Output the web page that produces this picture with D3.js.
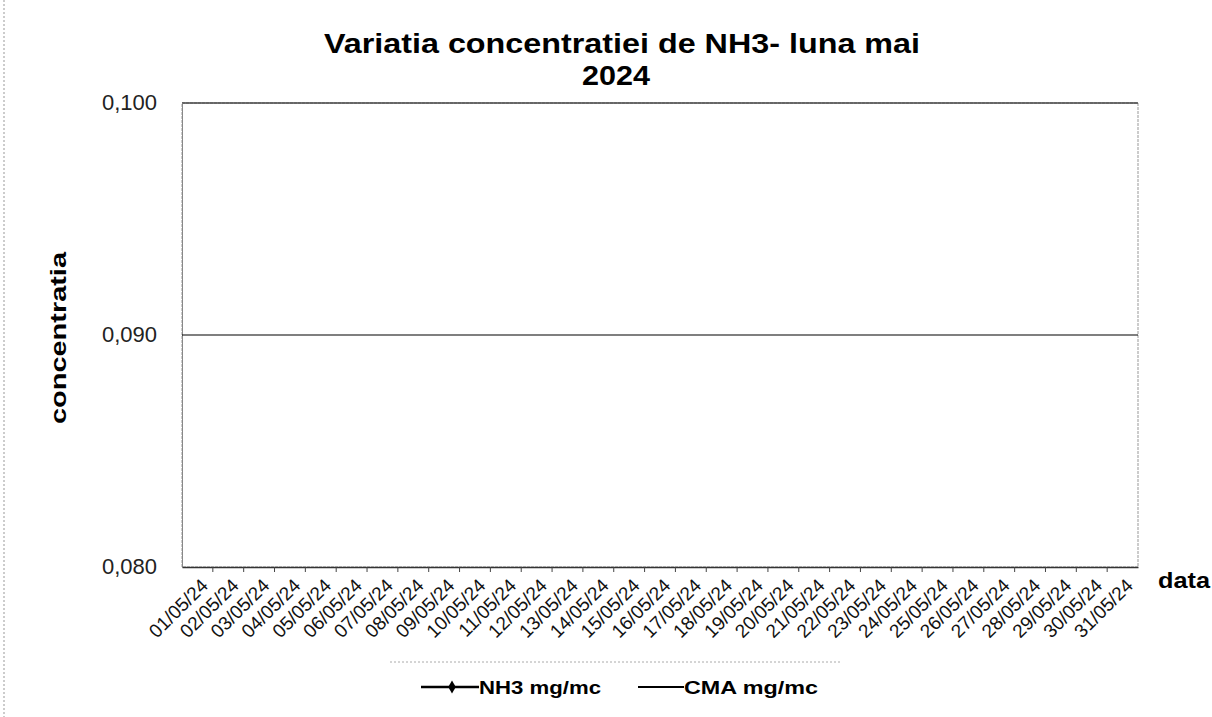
<!DOCTYPE html>
<html><head><meta charset="utf-8">
<script src="https://cdn.jsdelivr.net/npm/d3@7/dist/d3.min.js"></script>
<style>body{margin:0;background:#fff}svg{display:block;font-family:"Liberation Sans",Arial,sans-serif}</style>
</head><body><svg id="c" width="1212" height="717"></svg>
<script>
const categories = ["01/05/24","02/05/24","03/05/24","04/05/24","05/05/24","06/05/24","07/05/24","08/05/24","09/05/24","10/05/24","11/05/24","12/05/24","13/05/24","14/05/24","15/05/24","16/05/24","17/05/24","18/05/24","19/05/24","20/05/24","21/05/24","22/05/24","23/05/24","24/05/24","25/05/24","26/05/24","27/05/24","28/05/24","29/05/24","30/05/24","31/05/24"];
// NH3 values lie below the visible axis range (not visible in the chart)
const nh3 = [0.02,0.02,0.02,0.02,0.02,0.02,0.02,0.02,0.02,0.02,0.02,0.02,0.02,0.02,0.02,0.02,0.02,0.02,0.02,0.02,0.02,0.02,0.02,0.02,0.02,0.02,0.02,0.02,0.02,0.02,0.02];
const cma = [0.09,0.09,0.09,0.09,0.09,0.09,0.09,0.09,0.09,0.09,0.09,0.09,0.09,0.09,0.09,0.09,0.09,0.09,0.09,0.09,0.09,0.09,0.09,0.09,0.09,0.09,0.09,0.09,0.09,0.09,0.09];
const yTicks = [0.080,0.090,0.100];

const svg = d3.select("#c");
const L=182,R=1138,T=103,B=567;
const x = d3.scaleBand().domain(categories).range([L,R]);
const y = d3.scaleLinear().domain([0.080,0.100]).range([B,T]);

svg.append("defs").append("clipPath").attr("id","pc").append("rect").attr("x",L).attr("y",T).attr("width",R-L).attr("height",B-T);

// chart area left edge (dotted)
svg.append("line").attr("x1",4).attr("x2",4).attr("y1",0).attr("y2",717).attr("stroke","#999").attr("stroke-dasharray","2,2");
// faint dotted line under the labels
svg.append("line").attr("x1",390).attr("x2",842).attr("y1",662).attr("y2",662).attr("stroke","#aaa").attr("stroke-dasharray","2,2");

// plot border
svg.append("rect").attr("x",L).attr("y",T).attr("width",R-L).attr("height",B-T).attr("fill","none").attr("stroke","#999").attr("stroke-width",1).attr("stroke-dasharray","3,1");
svg.append("line").attr("x1",L).attr("x2",R).attr("y1",y(0.100)).attr("y2",y(0.100)).attr("stroke","#444").attr("stroke-width",1.6);

// y axis
const ya = svg.append("g").attr("transform",`translate(${L},0)`).call(d3.axisLeft(y).tickValues(yTicks).tickSize(0).tickPadding(25).tickFormat(d=>d3.format(".3f")(d).replace(".",",")));
ya.select(".domain").attr("stroke","#888");
ya.selectAll("text").attr("font-size",22).attr("fill","#222").attr("dy","0.3em");

// x axis
const xa = svg.append("g").attr("transform",`translate(0,${B})`).call(d3.axisBottom(x).tickSize(0).tickPadding(0));
xa.select(".domain").attr("stroke","#333").attr("stroke-width",1.5);
xa.selectAll("text").attr("font-size",19).attr("fill","#111").attr("text-anchor","end")
  .attr("transform","translate(7,15) rotate(-45)").attr("dy","0.35em");
// tick marks at category boundaries
svg.append("g").selectAll("line").data(categories.slice(1)).join("line")
  .attr("x1",d=>x(d)).attr("x2",d=>x(d)).attr("y1",B).attr("y2",B+5).attr("stroke","#444");

// series
const line = d3.line().x((d,i)=>x(categories[i])+x.bandwidth()/2).y(d=>y(d));
const g = svg.append("g").attr("clip-path","url(#pc)");
g.append("path").datum(nh3).attr("d",line).attr("fill","none").attr("stroke","#000").attr("stroke-width",2);
g.append("path").datum(cma).attr("d",d3.line().x((d,i)=>i===0?L:(i===cma.length-1?R:x(categories[i])+x.bandwidth()/2)).y(d=>y(d))).attr("fill","none").attr("stroke","#000").attr("stroke-width",1.2);

// title
svg.append("text").attr("x",622).attr("y",53).attr("text-anchor","middle").attr("font-size",28).attr("font-weight","bold").attr("textLength",596).attr("lengthAdjust","spacingAndGlyphs").text("Variatia concentratiei de NH3- luna mai");
svg.append("text").attr("x",616).attr("y",85).attr("text-anchor","middle").attr("font-size",28).attr("font-weight","bold").attr("textLength",68).attr("lengthAdjust","spacingAndGlyphs").text("2024");

// axis titles
svg.append("text").attr("transform","translate(66,338) rotate(-90)").attr("text-anchor","middle").attr("font-size",22).attr("font-weight","bold").attr("textLength",172).attr("lengthAdjust","spacingAndGlyphs").text("concentratia");
svg.append("text").attr("x",1158).attr("y",588).attr("font-size",22).attr("font-weight","bold").attr("textLength",52).attr("lengthAdjust","spacingAndGlyphs").text("data");

// legend
const lg = svg.append("g");
lg.append("line").attr("x1",421).attr("x2",479).attr("y1",687).attr("y2",687).attr("stroke","#000").attr("stroke-width",2.5);
lg.append("path").attr("d",d3.symbol(d3.symbolDiamond,50)()).attr("transform","translate(452,687)").attr("fill","#000");
lg.append("text").attr("x",479).attr("y",694).attr("font-size",19).attr("font-weight","bold").attr("textLength",122).attr("lengthAdjust","spacingAndGlyphs").text("NH3 mg/mc");
lg.append("line").attr("x1",638).attr("x2",684).attr("y1",687).attr("y2",687).attr("stroke","#000").attr("stroke-width",2);
lg.append("text").attr("x",684).attr("y",694).attr("font-size",19).attr("font-weight","bold").attr("textLength",134).attr("lengthAdjust","spacingAndGlyphs").text("CMA mg/mc");
</script></body></html>
